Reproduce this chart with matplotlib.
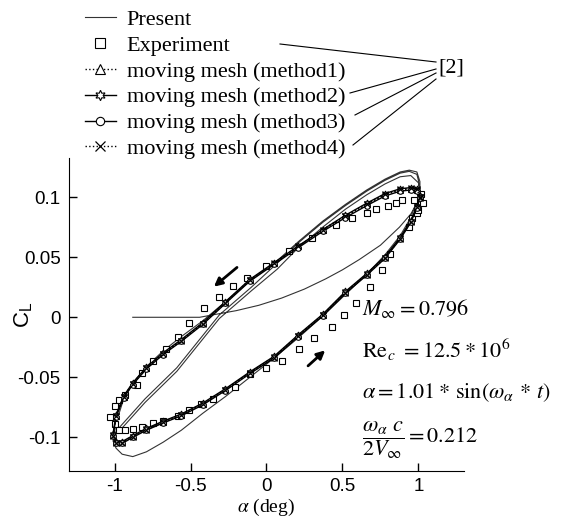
import matplotlib
matplotlib.use("Agg")
import matplotlib.pyplot as plt
from matplotlib.lines import Line2D

plt.rcParams['axes.unicode_minus'] = False
plt.rcParams['mathtext.fontset'] = 'stix'

# pitch angle along one cycle (downstroke then upstroke)
alpha_cycle = [1.01, 0.99, 0.95, 0.88, 0.78, 0.66, 0.52, 0.37, 0.21, 0.05,
               -0.11, -0.27, -0.42, -0.56, -0.68, -0.79, -0.88, -0.94, -0.99, -1.01,
               -0.99, -0.95, -0.88, -0.79, -0.68, -0.56, -0.42, -0.27, -0.11, 0.05,
               0.21, 0.37, 0.52, 0.66, 0.78, 0.88, 0.95, 0.99, 1.01]

cl_method1 = [0.100, 0.106, 0.107, 0.106, 0.102, 0.094, 0.084, 0.0725, 0.059, 0.045,
              0.031, 0.0125, -0.005, -0.019, -0.030, -0.042, -0.055, -0.066, -0.082, -0.098,
              -0.104, -0.104, -0.099, -0.093, -0.087, -0.081, -0.072, -0.060, -0.046, -0.033,
              -0.015, 0.002, 0.021, 0.036, 0.050, 0.066, 0.080, 0.092, 0.100]
cl_method2 = [0.101, 0.107, 0.108, 0.107, 0.103, 0.095, 0.085, 0.073, 0.0595, 0.0455,
              0.0315, 0.013, -0.0045, -0.0185, -0.0295, -0.0415, -0.0545, -0.0655, -0.081, -0.097,
              -0.1035, -0.1035, -0.0985, -0.0925, -0.0865, -0.0805, -0.0715, -0.0595, -0.0455, -0.0325,
              -0.0145, 0.0025, 0.0215, 0.0365, 0.0505, 0.0665, 0.0805, 0.0925, 0.101]
cl_method3 = [0.099, 0.105, 0.106, 0.105, 0.101, 0.093, 0.083, 0.0715, 0.058, 0.044,
              0.030, 0.0115, -0.006, -0.020, -0.031, -0.043, -0.056, -0.067, -0.083, -0.099,
              -0.105, -0.105, -0.100, -0.094, -0.088, -0.082, -0.073, -0.061, -0.047, -0.034,
              -0.016, 0.001, 0.020, 0.035, 0.049, 0.065, 0.079, 0.091, 0.099]
cl_method4 = [0.1005, 0.1065, 0.1075, 0.1065, 0.1025, 0.0945, 0.0845, 0.073, 0.059, 0.045,
              0.031, 0.012, -0.0055, -0.0195, -0.0305, -0.0425, -0.0555, -0.0665, -0.0825, -0.0985,
              -0.1045, -0.1045, -0.0995, -0.0935, -0.0875, -0.0815, -0.0725, -0.0605, -0.0465, -0.0335,
              -0.0155, 0.0015, 0.0205, 0.0355, 0.0495, 0.0655, 0.0795, 0.0915, 0.0995]

# experiment [2]
exp_alpha = [1.02, 0.97, 0.895, 0.855, 0.80, 0.72, 0.66, 0.566, 0.46, 0.30, 0.15, 0.0,
             -0.125, -0.22, -0.31, -0.41, -0.51, -0.585, -0.66, -0.75, -0.82, -0.855,
             -0.93, -0.97, -1.0, -1.03, -1.0, -0.97,
             -0.93, -0.88, -0.82, -0.75, -0.68, -0.585, -0.51, -0.43, -0.355, -0.21,
             -0.11, 0.0, 0.105, 0.217, 0.315, 0.43, 0.51, 0.59, 0.68, 0.76, 0.81,
             0.94, 0.96, 0.99, 1.0, 1.03]
exp_cl = [0.103, 0.0975, 0.0975, 0.095, 0.093, 0.090, 0.087, 0.0825, 0.0767, 0.066, 0.055, 0.043,
          0.033, 0.026, 0.0165, 0.0075, -0.005, -0.0165, -0.026, -0.036, -0.046, -0.056,
          -0.065, -0.069, -0.074, -0.083, -0.089, -0.094,
          -0.094, -0.093, -0.0915, -0.088, -0.086, -0.082, -0.077, -0.072, -0.068, -0.058,
          -0.047, -0.042, -0.036, -0.026, -0.0175, -0.008, 0.0017, 0.0117, 0.025, 0.039, 0.053,
          0.075, 0.0825, 0.087, 0.089, 0.095]

# present computation: start-up transient, first cycle, converged cycle
present_alpha = [-0.88, -0.6, -0.44, -0.31, -0.2, -0.05, 0.1, 0.25, 0.39, 0.5, 0.61, 0.75,
                 0.875, 0.95, 0.99, 1.01,
                 1.0, 0.99, 0.94, 0.88, 0.78, 0.66, 0.52, 0.37, 0.21, 0.07,
                 -0.1, -0.31, -0.59, -0.8, -0.97, -1.0,
                 -0.97, -0.8, -0.59, -0.31, -0.1, 0.07, 0.21, 0.37, 0.52, 0.66, 0.78,
                 0.88, 0.95, 1.0, 1.01,
                 1.01, 0.99, 0.94, 0.88, 0.78, 0.66, 0.52, 0.37, 0.21, 0.07,
                 -0.11, -0.27, -0.42, -0.56, -0.68, -0.79, -0.88, -0.94, -0.99, -1.01,
                 -0.99, -0.95, -0.88, -0.79, -0.68, -0.56, -0.42, -0.27, -0.11, 0.05,
                 0.21, 0.37, 0.52, 0.66, 0.78, 0.88, 0.95, 0.99, 1.01]
present_cl = [0.0, 0.0, 0.0, 0.003, 0.0055, 0.010, 0.016, 0.0235, 0.032, 0.0395, 0.048, 0.06,
              0.075, 0.086, 0.095, 0.105,
              0.114, 0.119, 0.1215, 0.12, 0.114, 0.105, 0.093, 0.079, 0.062, 0.045,
              0.025, 0.002, -0.042, -0.068, -0.092, -0.097,
              -0.095, -0.071, -0.045, -0.001, 0.022, 0.040, 0.058, 0.075, 0.09, 0.102, 0.111,
              0.117, 0.118, 0.112, 0.106,
              0.113, 0.121, 0.1225, 0.121, 0.115, 0.106, 0.094, 0.080, 0.063, 0.047,
              0.030, 0.013, -0.003, -0.016, -0.028, -0.041, -0.055, -0.068, -0.088, -0.103,
              -0.109, -0.114, -0.116, -0.112, -0.104, -0.094, -0.080, -0.066, -0.050, -0.034,
              -0.017, 0.001, 0.019, 0.036, 0.052, 0.068, 0.083, 0.097, 0.105]

labels = ['Present', 'Experiment', 'moving mesh (method1)', 'moving mesh (method2)',
          'moving mesh (method3)', 'moving mesh (method4)']

fig = plt.figure(figsize=(5.7, 5.18), dpi=100)
ax = fig.add_axes([0.121, 0.0907, 0.693, 0.604])

h0, = ax.plot(present_alpha, present_cl, color='#333333', lw=0.8)
h1, = ax.plot(exp_alpha, exp_cl, ls='none', marker='s', ms=4.5, mfc='white', mec='black', mew=0.8)
h2, = ax.plot(alpha_cycle, cl_method1, color='black', ls=':', lw=1, marker='^', ms=4.5,
              mfc='white', mec='black', mew=0.8)
h3, = ax.plot(alpha_cycle, cl_method2, color='black', ls='-', lw=1, marker=(6, 1, 0), ms=5,
              mfc='white', mec='black', mew=0.8)
h4, = ax.plot(alpha_cycle, cl_method3, color='black', ls='-', lw=1, marker='o', ms=4,
              mfc='white', mec='black', mew=0.8)
h5, = ax.plot(alpha_cycle, cl_method4, color='black', ls=':', lw=1, marker='x', ms=4.5,
              mec='black', mew=0.9)

ax.set_xlim(-1.3, 1.3)
ax.set_ylim(-0.128, 0.1325)
ax.set_xticks([-1, -0.5, 0, 0.5, 1])
ax.set_xticklabels(['-1', '-0.5', '0', '0.5', '1'])
ax.set_yticks([-0.1, -0.05, 0, 0.05, 0.1])
ax.set_yticklabels(['-0.1', '-0.05', '0', '0.05', '0.1'])
ax.tick_params(direction='in', length=6, width=1, labelsize=13.5, pad=6)
ax.tick_params(axis='x', pad=5)
for t in ax.get_xticklabels() + ax.get_yticklabels():
    t.set_fontfamily('Liberation Sans')
ax.spines['top'].set_visible(False)
ax.spines['right'].set_visible(False)
ax.set_xlabel(r'$\alpha$ (deg)', family='Liberation Serif', fontsize=14)
ax.xaxis.set_label_coords(0.5, -0.083)
ax.set_ylabel(r'$\mathregular{C_L}$', family='Liberation Sans', fontsize=16)
ax.yaxis.set_label_coords(-0.087, 0.5)

# pitching direction arrows
ax.annotate('', xy=(-0.36, 0.024), xytext=(-0.18, 0.043),
            arrowprops=dict(arrowstyle='-|>', lw=2, color='black', mutation_scale=12))
ax.annotate('', xy=(0.40, -0.026), xytext=(0.26, -0.042),
            arrowprops=dict(arrowstyle='-|>', lw=2, color='black', mutation_scale=12))

# flow conditions
tkw = dict(fontsize=16, va='center', ha='left')
ax.text(0.63, 0.0075, r'$M_{\infty}=0.796$', **tkw)
ax.text(0.63, -0.0275, r'$\mathrm{Re}_c\ =12.5*10^6$', **tkw)
ax.text(0.63, -0.0625, r'$\alpha=1.01*\,\sin(\omega_\alpha\,*\,t)$', **tkw)
ax.text(0.63, -0.1025, r'$\dfrac{\omega_\alpha\ c}{2V_\infty}=0.212$', **tkw)

leg = fig.legend([h0, h1, h2, h3, h4, h5], labels, loc='upper left',
                 bbox_to_anchor=(0.125, 1.008), frameon=False, numpoints=1, markerscale=1.5,
                 prop={'family': 'Liberation Serif', 'size': 16},
                 handlelength=1.4, handletextpad=0.5, labelspacing=0.24, borderpad=0.1)

# reference callout lines
W, H = 570, 518
def px(x, y):
    return x / W, 1 - y / H

for (x0, y0), (x1, y1) in [((280, 44), (436, 62)), ((350, 93), (436, 69)),
                           ((355, 115), (436, 73)), ((353, 145), (436, 79))]:
    a, b = px(x0, y0)
    c, d = px(x1, y1)
    fig.add_artist(Line2D([a, c], [b, d], color='black', lw=0.8, transform=fig.transFigure))
tx, ty = px(438, 68)
fig.text(tx, ty, '[2]', family='Liberation Serif', fontsize=16, va='center', ha='left')

fig.savefig('out.png', dpi=100)
